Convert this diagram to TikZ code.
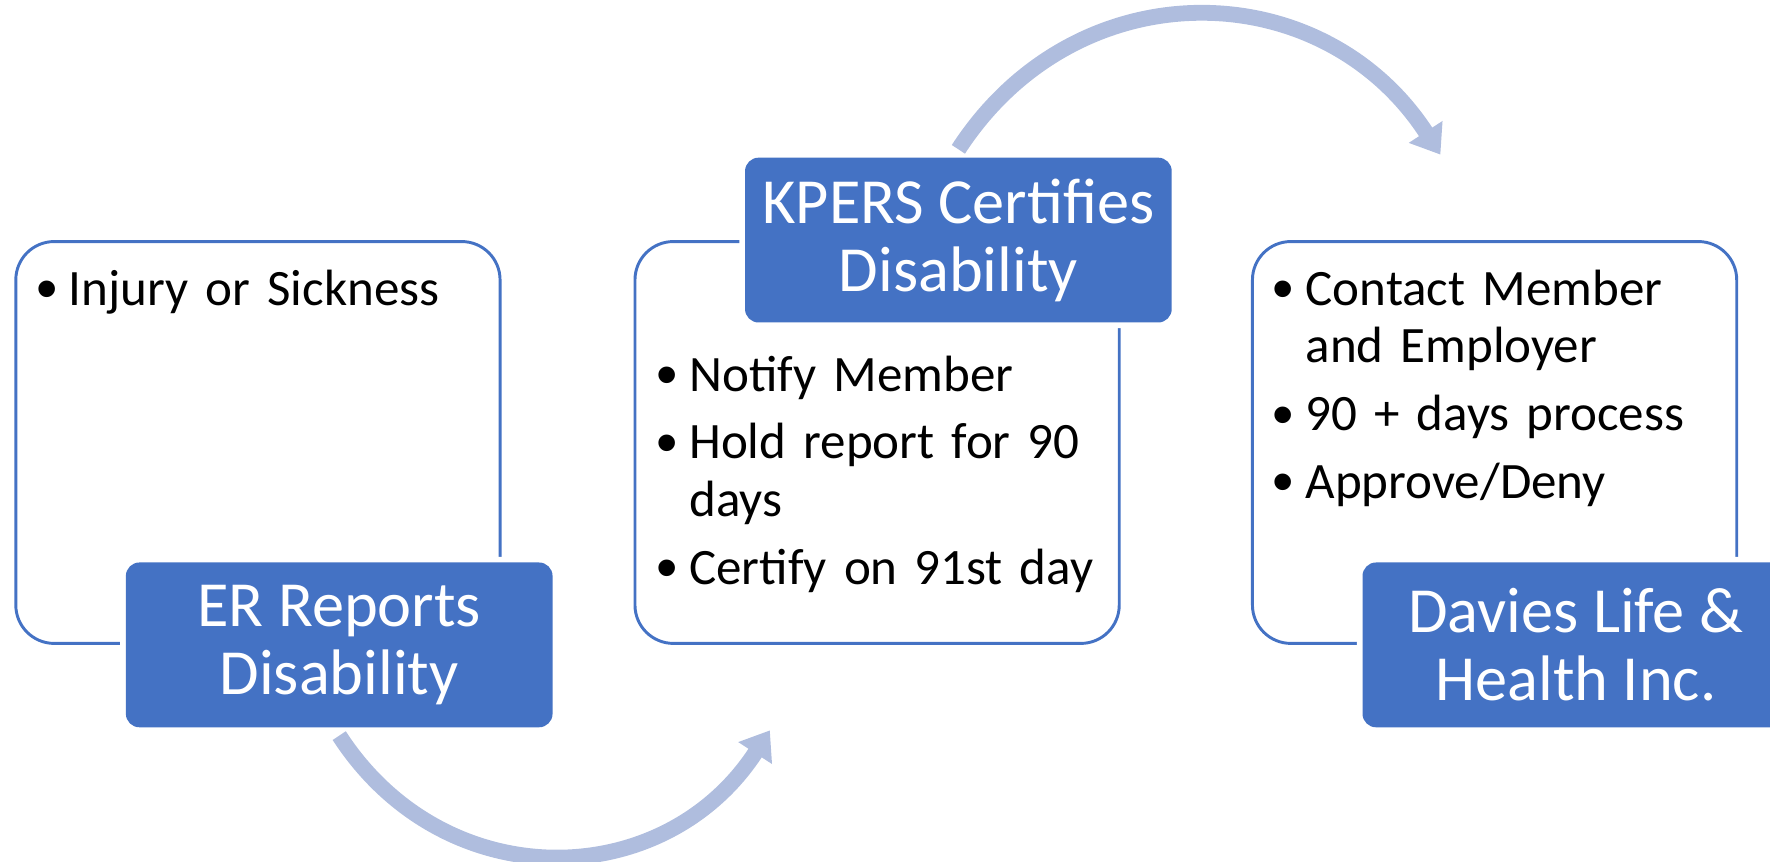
\documentclass[tikz,border=0pt]{standalone}
\usepackage{fontspec}
\setmainfont{Carlito}
\newfontfamily\punto{Liberation Sans}
\usetikzlibrary{arrows.meta}
\definecolor{azul}{RGB}{68,114,196}
\definecolor{celeste}{RGB}{175,189,222}
\newcommand{\bul}[1]{\hangindent=14.5pt\hangafter=1\noindent
  \makebox[14.5pt][l]{\raisebox{-2pt}{\punto\fontsize{27}{0}\selectfont\textbullet}}#1\par}
\tikzset{
  caja/.style={draw=azul,line width=1.3pt,rounded corners=17pt,minimum width=214.5pt,minimum height=178pt,inner sep=0pt},
  titulo/.style={fill=azul,rounded corners=6pt,minimum width=189pt,minimum height=73pt,inner sep=0pt,
    text=white,align=center,font=\fontsize{28.5}{30}\selectfont,preaction={draw=white,line width=5pt}},
  lista/.style={anchor=north west,inner sep=0pt,text width=200pt,align=left,
    font=\fontsize{22.6}{25.5}\selectfont,execute at begin node={\setlength{\parskip}{4.5pt}}},
  flecha/.style={draw=celeste,line width=7pt,-{Triangle[width=17pt,length=12pt]}}
}

\begin{document}
\begin{tikzpicture}[x=0.5pt,y=0.5pt]
  \useasboundingbox (0,0) rectangle (1568,763);
  \clip (0,0) rectangle (1568,763);

  % cajas
  \node[caja] (c1) at (228.5,371) {};
  \node[caja] (c2) at (777,371) {};
  \node[caja] (c3) at (1324,371) {};

  % titulos
  \node[titulo] (t1) at ([xshift=36pt]c1.south) {ER Reports\\Disability};
  \node[titulo] (t2) at ([xshift=36pt]c2.north) {KPERS Certifies\\Disability};
  \node[titulo] (t3) at ([xshift=36pt]c3.south) {Davies Life \&\\Health Inc.};

  % listas
  \node[lista] (l1) at ([xshift=9.5pt,yshift=-13pt]c1.north west)
    {\bul{Injury or Sickness}};
  \node[lista] (l2) at ([xshift=10pt,yshift=-51pt]c2.north west)
    {\bul{Notify Member}\bul{Hold report for 90\break days}\bul{Certify on 91st day}};
  \node[lista] (l3) at ([xshift=9.5pt,yshift=-13pt]c3.north west)
    {\bul{Contact Member\break and Employer}\bul{90 + days process}\bul{Approve/Deny}};

  % flechas
  \coordinate (p1) at (682,116);
  \coordinate (p2) at (1276,626);
  \draw[flecha] ([yshift=-3.5pt]t1.south) to[out=-57,in=237,looseness=1.15] (p1);
  \draw[flecha] ([yshift=3.5pt]t2.north) to[out=57,in=123,looseness=1.15] (p2);
\end{tikzpicture}
\end{document}
